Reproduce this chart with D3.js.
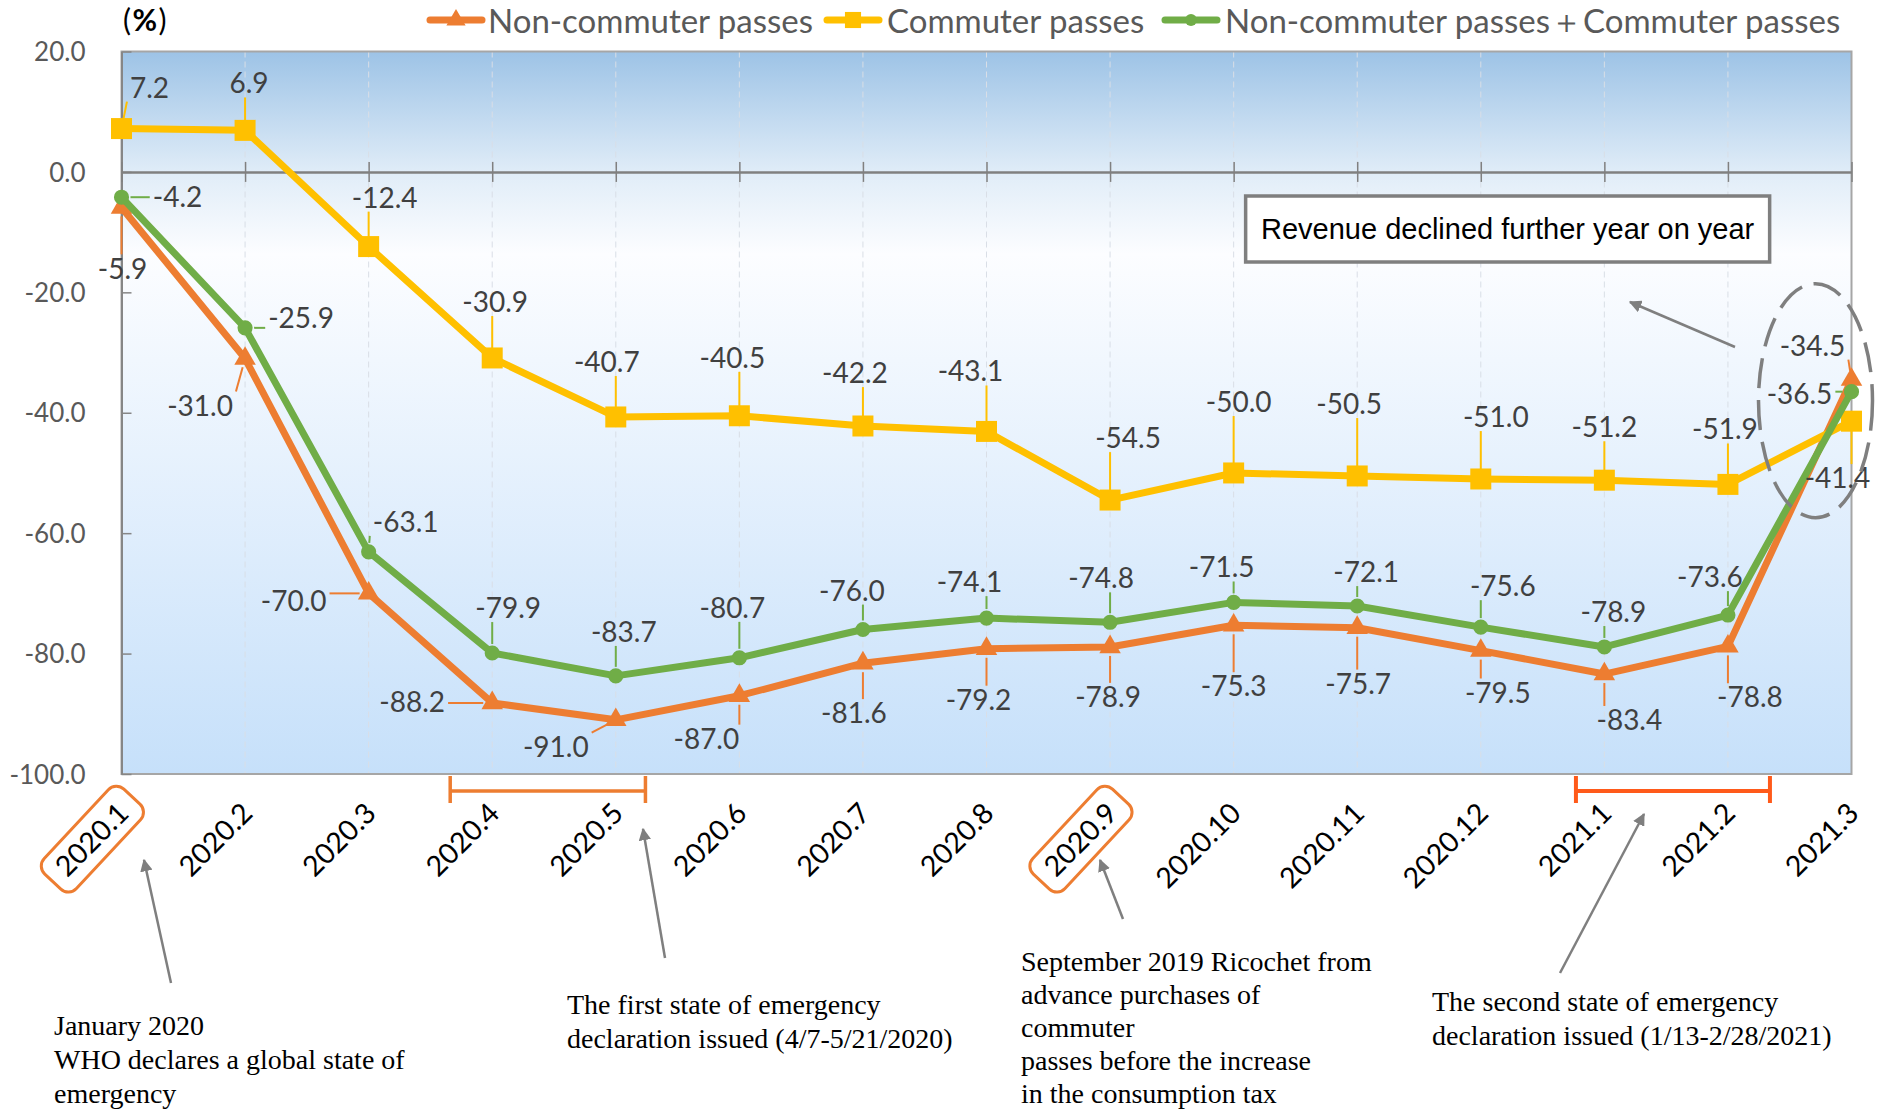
<!DOCTYPE html>
<html><head><meta charset="utf-8">
<script src="https://cdn.jsdelivr.net/npm/d3@7"></script>
<style>body{margin:0;background:#fff;} svg{display:block;}</style>
</head><body>
<svg id="chart" width="1879" height="1112"></svg>
<script>
// ---------------- data ----------------
const categories = ["2020.1","2020.2","2020.3","2020.4","2020.5","2020.6","2020.7","2020.8","2020.9","2020.10","2020.11","2020.12","2021.1","2021.2","2021.3"];
const nonCommuter = [-5.9,-31.0,-70.0,-88.2,-91.0,-87.0,-81.6,-79.2,-78.9,-75.3,-75.7,-79.5,-83.4,-78.8,-34.5];
const commuter    = [7.2,6.9,-12.4,-30.9,-40.7,-40.5,-42.2,-43.1,-54.5,-50.0,-50.5,-51.0,-51.2,-51.9,-41.4];
const total       = [-4.2,-25.9,-63.1,-79.9,-83.7,-80.7,-76.0,-74.1,-74.8,-71.5,-72.1,-75.6,-78.9,-73.6,-36.5];
const yTicks = [20,0,-20,-40,-60,-80,-100];
const seriesNames = ["Non-commuter passes","Commuter passes","Non-commuter passes＋Commuter passes"];
const unitLabel = ["(", "%", ")"];
const boxNote = "Revenue declined further year on year";
const notes = [
  ["January 2020","WHO declares a global state of","emergency"],
  ["The first state of emergency","declaration issued (4/7-5/21/2020)"],
  ["September 2019 Ricochet from","advance purchases of","commuter","passes before the increase","in the consumption tax"],
  ["The second state of emergency","declaration issued (1/13-2/28/2021)"]
];
const highlighted = ["2020.1","2020.9"];

// ---------------- layout (label offsets in px) ----------------
const offNon = [[1,61],[-45,47],[-75,8],[-80,-1],[-60,27],[-33,43],[-9,50],[-8,51],[-2,50],[0,61],[1,56],[17,42],[25,46],[22,51],[-39,-34]];
const offCom = [[28,-41],[4,-47],[16,-49],[3,-56],[-9,-55],[-7,-58],[-8,-53],[-16,-60],[18,-62],[5,-71],[-8,-72],[15,-62],[0,-53],[-3,-55],[-14,57]];
const offTot = [[56,0],[56,-10],[37,-30],[16,-45],[8,-44],[-7,-50],[-11,-39],[-17,-36],[-9,-44],[-12,-35],[9,-34],[22,-41],[9,-35],[-18,-38],[-52,2]];

const plot = {l:121.5, r:1851.5, t:51.5, b:774};
const svg = d3.select("#chart");
const x = d3.scalePoint().domain(categories).range([plot.l, plot.r]);
const y = d3.scaleLinear().domain([-100,20]).range([plot.b, plot.t]);
const step = x.step();
const loc = d3.formatLocale({decimal:".", thousands:",", grouping:[3], currency:["",""], minus:"-"});
const fmt = loc.format(".1f");

const C = {non:"#ed7d31", com:"#ffc000", tot:"#70ad47", grey:"#7f7f7f", text:"#404040", axisText:"#595959"};
const labelFont = "Lato, 'Open Sans', sans-serif";

const defs = svg.append("defs");
const grad = defs.append("linearGradient").attr("id","bg").attr("x1",0).attr("y1",0).attr("x2",0).attr("y2",1);
[[0,"#9dc3e6"],[0.17,"#e1edf8"],[0.28,"#fcfdff"],[1,"#c6e0fa"]].forEach(s=>grad.append("stop").attr("offset",s[0]).attr("stop-color",s[1]));
defs.append("marker").attr("id","arrow").attr("viewBox","0 0 10 10").attr("refX",9).attr("refY",5)
  .attr("markerWidth",5).attr("markerHeight",5).attr("orient","auto-start-reverse").attr("markerUnits","strokeWidth")
  .append("path").attr("d","M0,0 L10,5 L0,10 z").attr("fill",C.grey);

// plot background
svg.append("rect").attr("x",plot.l).attr("y",plot.t).attr("width",plot.r-plot.l).attr("height",plot.b-plot.t).attr("fill","url(#bg)");

// vertical gridlines
svg.append("g").selectAll("line").data(categories.slice(1,-1)).join("line")
  .attr("x1",d=>x(d)).attr("x2",d=>x(d)).attr("y1",plot.t).attr("y2",plot.b)
  .attr("stroke","#d9dee6").attr("stroke-width",1).attr("stroke-dasharray","6 4");

// plot border
svg.append("rect").attr("x",plot.l).attr("y",plot.t).attr("width",plot.r-plot.l).attr("height",plot.b-plot.t)
  .attr("fill","none").attr("stroke","#a6a6a6").attr("stroke-width",2);

// y axis
const yAxis = svg.append("g").attr("transform",`translate(${plot.l},0)`)
  .call(d3.axisLeft(y).tickValues(yTicks).tickFormat(fmt).tickSizeInner(-10).tickSizeOuter(0).tickPadding(36));
yAxis.select(".domain").attr("stroke","#868686").attr("stroke-width",2);
yAxis.selectAll(".tick line").attr("stroke","#868686").attr("stroke-width",1.5);
yAxis.selectAll(".tick text").attr("fill",C.axisText).attr("font-family",labelFont).attr("font-size",26).attr("dy","0.35em");

// x axis at zero
const xAxis = svg.append("g").attr("transform",`translate(0,${y(0)})`)
  .call(d3.axisBottom(x).tickSizeInner(10).tickSizeOuter(0).tickFormat(""));
xAxis.select(".domain").attr("stroke","#808080").attr("stroke-width",2.5);
xAxis.selectAll(".tick line").attr("stroke","#808080").attr("stroke-width",1.5).attr("y1",-10).attr("y2",10);

// category labels below plot
const xl = svg.append("g");
categories.forEach(c=>{
  xl.append("text").attr("transform",`translate(${x(c)+2},${plot.b+34}) rotate(-45)`)
    .attr("text-anchor","end").attr("dy","0.35em").attr("font-family",labelFont).attr("font-size",28.5).attr("fill","#000").text(c);
});
// highlight boxes
highlighted.forEach(c=>{
  const L = 88;
  const cx = x(c)+2 - (L/2)*Math.SQRT1_2, cy = plot.b+34 + (L/2)*Math.SQRT1_2;
  svg.append("rect").attr("x",-(L+28)/2).attr("y",-22).attr("width",L+28).attr("height",44).attr("rx",11)
    .attr("transform",`translate(${cx},${cy}) rotate(-47)`)
    .attr("fill","none").attr("stroke",C.non).attr("stroke-width",3);
});

// series
const series = [
  {vals:nonCommuter, color:C.non, sym:d3.symbolTriangle, size:200, off:offNon},
  {vals:commuter, color:C.com, sym:d3.symbolSquare, size:441, off:offCom},
  {vals:total, color:C.tot, sym:d3.symbolCircle, size:180, off:offTot}
];
const line = d3.line().x((d,i)=>x(categories[i])).y(d=>y(d));
series.forEach(s=>{
  const g = svg.append("g");
  g.append("path").datum(s.vals).attr("d",line).attr("fill","none").attr("stroke",s.color).attr("stroke-width",7).attr("stroke-linejoin","round");
  g.selectAll("path.m").data(s.vals).join("path").attr("class","m")
    .attr("d",d3.symbol(s.sym,s.size)).attr("transform",(d,i)=>`translate(${x(categories[i])},${y(d)})`).attr("fill",s.color);
});

// data labels with leader lines
const fs = 28;
const lblG = svg.append("g");
series.forEach(s=>{
  s.vals.forEach((v,i)=>{
    const px = x(categories[i]), py = y(v);
    const cx = px + s.off[i][0], cy = py + s.off[i][1];
    const t = lblG.append("text").attr("x",cx).attr("y",cy + 0.36*fs).attr("text-anchor","middle")
      .attr("font-family",labelFont).attr("font-size",fs).attr("fill",C.text).text(fmt(v));
    const w = t.node().getComputedTextLength();
    const bx0 = cx - w/2 - 3, bx1 = cx + w/2 + 3, by0 = cy - 0.36*fs - 4, by1 = cy + 0.36*fs + 4;
    const ex = Math.max(bx0, Math.min(px, bx1)), ey = Math.max(by0, Math.min(py, by1));
    const dx = ex - px, dy = ey - py, dist = Math.hypot(dx,dy);
    if (dist > 14) {
      const sx = px + dx/dist*9, sy = py + dy/dist*9;
      lblG.insert("line","text").attr("x1",sx).attr("y1",sy).attr("x2",ex).attr("y2",ey)
        .attr("stroke",s.color).attr("stroke-width",2);
    }
  });
});

// legend
const legendItems = [
  {x0:430, tx:488, color:C.non, sym:d3.symbolTriangle, size:160},
  {x0:827, tx:887, color:C.com, sym:d3.symbolSquare, size:260},
  {x0:1165, tx:1225, color:C.tot, sym:d3.symbolCircle, size:110}
];
legendItems.forEach((it,k)=>{
  const ly = 20;
  svg.append("line").attr("x1",it.x0).attr("x2",it.x0+52).attr("y1",ly).attr("y2",ly).attr("stroke",it.color).attr("stroke-width",7).attr("stroke-linecap","round");
  svg.append("path").attr("d",d3.symbol(it.sym,it.size)).attr("transform",`translate(${it.x0+26},${ly})`).attr("fill",it.color);
  svg.append("text").attr("x",it.tx).attr("y",33).attr("font-family",labelFont).attr("font-size",33).attr("fill",C.axisText).text(seriesNames[k]);
});

// unit label
const ut = svg.append("text").attr("x",123).attr("y",31).attr("font-family",labelFont).attr("font-size",30).attr("letter-spacing",1.5).attr("fill","#000");
ut.append("tspan").text(unitLabel[0]);
ut.append("tspan").attr("font-weight","bold").text(unitLabel[1]);
ut.append("tspan").text(unitLabel[2]);

// annotation box
const bx = x("2020.10")+12, bw = 524;
svg.append("rect").attr("x",bx).attr("y",196).attr("width",bw).attr("height",66).attr("fill","#fff").attr("stroke",C.grey).attr("stroke-width",3.5);
svg.append("text").attr("x",bx+bw/2).attr("y",239).attr("text-anchor","middle").attr("font-family","'Liberation Sans', Arial, sans-serif").attr("font-size",29).attr("fill","#000").text(boxNote);

// arrow from ellipse to box
svg.append("line").attr("x1",1735).attr("y1",347).attr("x2",1630).attr("y2",302).attr("stroke",C.grey).attr("stroke-width",2.5).attr("marker-end","url(#arrow)");

// dashed ellipse
svg.append("ellipse").attr("cx",x("2021.3")-36).attr("cy",y(-38)).attr("rx",57).attr("ry",117)
  .attr("fill","none").attr("stroke",C.grey).attr("stroke-width",3.5).attr("stroke-dasharray","30 12");

// brackets (state of emergency periods)
function bracket(x1,x2,color,sw){
  const by = plot.b+17;
  const g = svg.append("g").attr("stroke",color).attr("stroke-width",sw).attr("fill","none");
  g.append("line").attr("x1",x1).attr("x2",x2).attr("y1",by).attr("y2",by);
  g.append("line").attr("x1",x1).attr("x2",x1).attr("y1",by-15).attr("y2",by+12);
  g.append("line").attr("x1",x2).attr("x2",x2).attr("y1",by-15).attr("y2",by+12);
}
bracket(x("2020.4")-0.34*step, x("2020.5")+0.24*step, C.non, 3.5);
bracket(x("2021.1")-0.23*step, x("2021.2")+0.34*step, "#ff5a1a", 4);

// annotation arrows
const arrows = [[171,983,144,860],[665,958,643,829],[1123,919,1100,860],[1560,973,1644,814]];
arrows.forEach(a=>svg.append("line").attr("x1",a[0]).attr("y1",a[1]).attr("x2",a[2]).attr("y2",a[3])
  .attr("stroke",C.grey).attr("stroke-width",2.5).attr("marker-end","url(#arrow)"));

// annotation notes
const notePos = [[54,1035,34],[567,1014,34],[1021,971,33],[1432,1011,34]];
notes.forEach((lines,k)=>{
  const t = svg.append("text").attr("font-family","'Liberation Serif','Times New Roman',serif").attr("font-size",28).attr("fill","#000");
  lines.forEach((ln,j)=>t.append("tspan").attr("x",notePos[k][0]).attr("y",notePos[k][1]+j*notePos[k][2]).text(ln));
});
</script>
</body></html>
